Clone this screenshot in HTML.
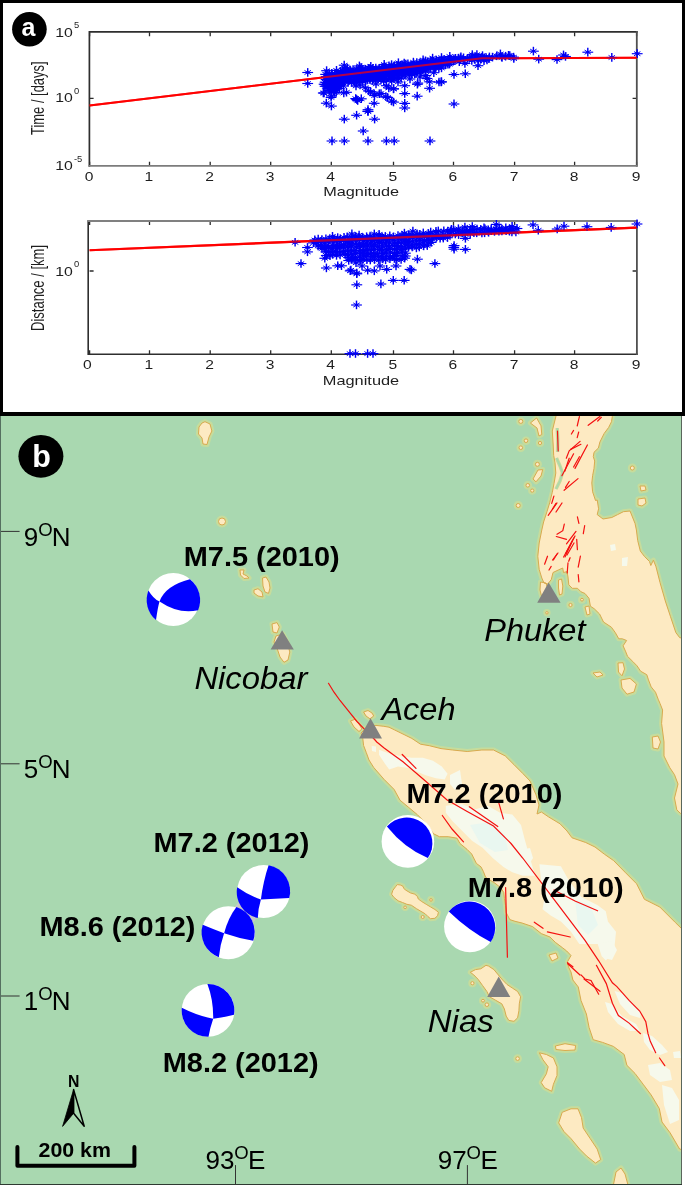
<!DOCTYPE html><html><head><meta charset="utf-8"><style>html,body{margin:0;padding:0;background:#fff;overflow:hidden;width:685px;height:1185px;}svg{display:block;}</style></head><body><svg width="685" height="1185" viewBox="0 0 685 1185"><defs><g id="k"><path d="M-5.4 0H5.4" stroke="#0000f5" stroke-width="1.15" fill="none"/><path d="M0 -4.4V4.2" stroke="#0000f5" stroke-width="1.45" fill="none"/><path d="M-3.2 -2.1L3.2 2.1M-3.2 2.1L3.2 -2.1" stroke="#0000f5" stroke-width="1" fill="none"/><circle r="1.4" fill="#0000f5"/></g><clipPath id="mc"><rect x="1" y="416" width="680" height="768"/></clipPath><clipPath id="p1"><rect x="60" y="20" width="600" height="170"/></clipPath></defs><rect x="0" y="0" width="685" height="1185" fill="#000"/><rect x="3" y="3" width="679" height="409" fill="#fff"/><rect x="682" y="416" width="3" height="769" fill="#fff"/><rect x="0" y="416" width="682" height="769" fill="#2e3a31"/><rect x="0" y="416" width="1" height="768" fill="#557060"/><rect x="681" y="416" width="1" height="768" fill="#5a665c"/><rect x="1" y="416" width="680" height="768" fill="#a9d8b0"/><g fill="none" stroke="#2b2b2b" stroke-width="1.3"><path d="M89.6 165.7v-4M89.6 32.3v4M149.5 165.7v-4M149.5 32.3v4M210.2 165.7v-4M210.2 32.3v4M270.7 165.7v-4M270.7 32.3v4M331.3 165.7v-4M331.3 32.3v4M393.5 165.7v-4M393.5 32.3v4M453.5 165.7v-4M453.5 32.3v4M514.6 165.7v-4M514.6 32.3v4M574.6 165.7v-4M574.6 32.3v4M636.6 165.7v-4M636.6 32.3v4M89.6 98.4h4M636.6 98.4h-4"/><path d="M89.6 354.2v-4M89.6 221.0v4M149.5 354.2v-4M149.5 221.0v4M210.2 354.2v-4M210.2 221.0v4M270.7 354.2v-4M270.7 221.0v4M331.3 354.2v-4M331.3 221.0v4M393.5 354.2v-4M393.5 221.0v4M453.5 354.2v-4M453.5 221.0v4M514.6 354.2v-4M514.6 221.0v4M574.6 354.2v-4M574.6 221.0v4M636.6 354.2v-4M636.6 221.0v4M89.6 271.0h4M636.6 271.0h-4"/></g><g fill="none" stroke-linecap="square"><path d="M89.4 165.8V31.9H636.8" stroke="#2e2e2e" stroke-width="1.7"/><path d="M636.8 31.9V165.8" stroke="#505050" stroke-width="1.8"/><path d="M89.4 165.8H636.8" stroke="#7c7c7c" stroke-width="1.8"/><path d="M88.2 221V354.2H636.9" stroke="#2e2e2e" stroke-width="1.6"/><path d="M636.9 221V354.2" stroke="#505050" stroke-width="1.8"/><path d="M88.2 221H636.9" stroke="#808080" stroke-width="1.8"/></g><polyline points="89.6,105.5 482,58.3 636.6,57.8" fill="none" stroke="#f00" stroke-width="2.1"/><polyline points="89.6,250.2 636.6,227.6" fill="none" stroke="#f00" stroke-width="2.1"/><g><use href="#k" x="325.6" y="74.4"/><use href="#k" x="326.3" y="76.7"/><use href="#k" x="326.1" y="79.6"/><use href="#k" x="325.1" y="82.2"/><use href="#k" x="325.1" y="84.5"/><use href="#k" x="325.1" y="86.3"/><use href="#k" x="329.4" y="73.7"/><use href="#k" x="328.2" y="76.9"/><use href="#k" x="329.7" y="79.2"/><use href="#k" x="328.6" y="82.3"/><use href="#k" x="327.9" y="84.5"/><use href="#k" x="328.3" y="85.7"/><use href="#k" x="328.0" y="88.4"/><use href="#k" x="329.4" y="90.6"/><use href="#k" x="331.8" y="73.5"/><use href="#k" x="331.6" y="75.4"/><use href="#k" x="330.6" y="78.0"/><use href="#k" x="331.9" y="80.8"/><use href="#k" x="331.1" y="83.5"/><use href="#k" x="331.4" y="85.4"/><use href="#k" x="332.1" y="88.4"/><use href="#k" x="331.0" y="90.6"/><use href="#k" x="335.0" y="73.6"/><use href="#k" x="333.9" y="76.4"/><use href="#k" x="333.5" y="77.9"/><use href="#k" x="334.8" y="79.8"/><use href="#k" x="334.3" y="82.1"/><use href="#k" x="334.6" y="85.6"/><use href="#k" x="334.4" y="88.2"/><use href="#k" x="333.9" y="90.3"/><use href="#k" x="334.5" y="92.5"/><use href="#k" x="337.7" y="73.4"/><use href="#k" x="337.0" y="75.3"/><use href="#k" x="336.2" y="77.8"/><use href="#k" x="337.3" y="80.7"/><use href="#k" x="337.7" y="81.9"/><use href="#k" x="336.8" y="84.9"/><use href="#k" x="336.1" y="87.0"/><use href="#k" x="336.4" y="88.9"/><use href="#k" x="336.2" y="92.3"/><use href="#k" x="336.5" y="70.4"/><use href="#k" x="340.5" y="71.3"/><use href="#k" x="339.7" y="74.5"/><use href="#k" x="340.6" y="77.3"/><use href="#k" x="340.5" y="78.8"/><use href="#k" x="339.6" y="81.4"/><use href="#k" x="340.6" y="84.7"/><use href="#k" x="339.1" y="85.9"/><use href="#k" x="339.3" y="88.4"/><use href="#k" x="342.7" y="70.8"/><use href="#k" x="341.6" y="73.5"/><use href="#k" x="342.3" y="76.1"/><use href="#k" x="343.5" y="78.7"/><use href="#k" x="342.6" y="81.0"/><use href="#k" x="342.9" y="82.5"/><use href="#k" x="343.4" y="86.0"/><use href="#k" x="345.9" y="70.3"/><use href="#k" x="345.1" y="72.2"/><use href="#k" x="345.6" y="74.6"/><use href="#k" x="344.5" y="77.2"/><use href="#k" x="344.6" y="79.8"/><use href="#k" x="344.4" y="81.7"/><use href="#k" x="344.5" y="68.2"/><use href="#k" x="347.1" y="70.8"/><use href="#k" x="348.3" y="72.1"/><use href="#k" x="347.6" y="74.8"/><use href="#k" x="347.8" y="76.8"/><use href="#k" x="348.8" y="80.6"/><use href="#k" x="348.0" y="82.2"/><use href="#k" x="347.3" y="68.1"/><use href="#k" x="350.4" y="70.5"/><use href="#k" x="350.2" y="71.7"/><use href="#k" x="351.7" y="74.9"/><use href="#k" x="350.1" y="77.3"/><use href="#k" x="349.9" y="79.7"/><use href="#k" x="351.8" y="82.6"/><use href="#k" x="353.1" y="69.6"/><use href="#k" x="352.9" y="72.6"/><use href="#k" x="353.7" y="75.0"/><use href="#k" x="353.3" y="76.5"/><use href="#k" x="354.2" y="80.2"/><use href="#k" x="354.3" y="82.3"/><use href="#k" x="356.8" y="69.1"/><use href="#k" x="356.4" y="71.7"/><use href="#k" x="355.4" y="73.6"/><use href="#k" x="355.9" y="76.4"/><use href="#k" x="356.7" y="79.9"/><use href="#k" x="356.3" y="82.3"/><use href="#k" x="360.0" y="69.1"/><use href="#k" x="358.6" y="71.3"/><use href="#k" x="358.5" y="73.7"/><use href="#k" x="359.4" y="77.2"/><use href="#k" x="359.8" y="78.9"/><use href="#k" x="359.4" y="81.8"/><use href="#k" x="359.4" y="66.0"/><use href="#k" x="362.4" y="69.5"/><use href="#k" x="361.8" y="71.0"/><use href="#k" x="362.5" y="73.6"/><use href="#k" x="362.5" y="77.0"/><use href="#k" x="361.7" y="78.5"/><use href="#k" x="362.8" y="81.5"/><use href="#k" x="361.1" y="67.3"/><use href="#k" x="365.4" y="69.3"/><use href="#k" x="363.9" y="71.8"/><use href="#k" x="365.6" y="73.9"/><use href="#k" x="364.3" y="76.1"/><use href="#k" x="363.9" y="77.7"/><use href="#k" x="365.6" y="81.1"/><use href="#k" x="368.3" y="68.5"/><use href="#k" x="368.1" y="71.5"/><use href="#k" x="366.8" y="73.0"/><use href="#k" x="367.0" y="75.4"/><use href="#k" x="367.6" y="77.8"/><use href="#k" x="367.2" y="80.0"/><use href="#k" x="369.9" y="68.3"/><use href="#k" x="370.3" y="71.4"/><use href="#k" x="370.0" y="73.8"/><use href="#k" x="370.2" y="75.6"/><use href="#k" x="370.2" y="77.2"/><use href="#k" x="370.0" y="79.8"/><use href="#k" x="370.8" y="66.5"/><use href="#k" x="372.9" y="68.4"/><use href="#k" x="373.0" y="70.2"/><use href="#k" x="373.0" y="73.0"/><use href="#k" x="373.5" y="74.6"/><use href="#k" x="373.0" y="77.3"/><use href="#k" x="372.5" y="80.5"/><use href="#k" x="375.8" y="68.2"/><use href="#k" x="376.5" y="70.1"/><use href="#k" x="375.9" y="72.6"/><use href="#k" x="375.7" y="75.3"/><use href="#k" x="375.6" y="77.5"/><use href="#k" x="375.6" y="80.5"/><use href="#k" x="379.2" y="68.3"/><use href="#k" x="378.0" y="70.0"/><use href="#k" x="379.3" y="72.9"/><use href="#k" x="377.7" y="74.1"/><use href="#k" x="378.3" y="76.5"/><use href="#k" x="377.9" y="78.9"/><use href="#k" x="381.8" y="67.9"/><use href="#k" x="380.5" y="70.0"/><use href="#k" x="381.5" y="71.5"/><use href="#k" x="382.0" y="75.2"/><use href="#k" x="380.6" y="77.6"/><use href="#k" x="381.0" y="79.3"/><use href="#k" x="384.6" y="66.5"/><use href="#k" x="383.8" y="69.5"/><use href="#k" x="383.6" y="71.3"/><use href="#k" x="383.6" y="74.6"/><use href="#k" x="383.0" y="76.7"/><use href="#k" x="383.8" y="78.3"/><use href="#k" x="384.2" y="64.5"/><use href="#k" x="385.8" y="67.6"/><use href="#k" x="387.3" y="69.9"/><use href="#k" x="385.9" y="71.2"/><use href="#k" x="385.8" y="74.4"/><use href="#k" x="386.3" y="75.8"/><use href="#k" x="386.6" y="79.4"/><use href="#k" x="389.0" y="66.0"/><use href="#k" x="390.3" y="69.0"/><use href="#k" x="389.9" y="70.7"/><use href="#k" x="388.6" y="74.0"/><use href="#k" x="389.3" y="75.4"/><use href="#k" x="390.4" y="78.7"/><use href="#k" x="391.4" y="66.8"/><use href="#k" x="391.4" y="69.2"/><use href="#k" x="392.1" y="70.8"/><use href="#k" x="392.3" y="74.1"/><use href="#k" x="391.8" y="75.3"/><use href="#k" x="392.3" y="77.8"/><use href="#k" x="391.6" y="64.7"/><use href="#k" x="394.4" y="65.7"/><use href="#k" x="394.6" y="68.8"/><use href="#k" x="394.6" y="70.8"/><use href="#k" x="394.4" y="73.0"/><use href="#k" x="394.0" y="75.2"/><use href="#k" x="394.0" y="78.4"/><use href="#k" x="397.1" y="65.7"/><use href="#k" x="398.6" y="67.5"/><use href="#k" x="398.4" y="70.4"/><use href="#k" x="397.8" y="73.5"/><use href="#k" x="397.5" y="75.4"/><use href="#k" x="398.1" y="78.5"/><use href="#k" x="398.4" y="62.8"/><use href="#k" x="400.8" y="65.4"/><use href="#k" x="400.2" y="67.2"/><use href="#k" x="399.8" y="69.6"/><use href="#k" x="401.0" y="72.3"/><use href="#k" x="399.8" y="74.4"/><use href="#k" x="401.2" y="78.1"/><use href="#k" x="402.8" y="64.9"/><use href="#k" x="402.9" y="67.6"/><use href="#k" x="402.6" y="70.0"/><use href="#k" x="402.8" y="73.2"/><use href="#k" x="404.2" y="74.9"/><use href="#k" x="404.2" y="63.2"/><use href="#k" x="405.8" y="64.2"/><use href="#k" x="405.8" y="67.4"/><use href="#k" x="406.0" y="69.3"/><use href="#k" x="406.0" y="71.4"/><use href="#k" x="405.6" y="74.0"/><use href="#k" x="407.9" y="64.0"/><use href="#k" x="408.4" y="66.8"/><use href="#k" x="409.0" y="69.6"/><use href="#k" x="409.3" y="72.2"/><use href="#k" x="409.2" y="75.0"/><use href="#k" x="411.2" y="65.3"/><use href="#k" x="410.9" y="67.3"/><use href="#k" x="411.8" y="68.6"/><use href="#k" x="412.2" y="72.4"/><use href="#k" x="411.8" y="74.5"/><use href="#k" x="413.6" y="64.0"/><use href="#k" x="414.3" y="66.9"/><use href="#k" x="414.9" y="69.3"/><use href="#k" x="414.5" y="71.8"/><use href="#k" x="414.7" y="73.9"/><use href="#k" x="413.4" y="62.2"/><use href="#k" x="416.8" y="62.7"/><use href="#k" x="417.8" y="65.8"/><use href="#k" x="417.3" y="68.3"/><use href="#k" x="417.4" y="70.5"/><use href="#k" x="416.1" y="73.4"/><use href="#k" x="419.8" y="62.8"/><use href="#k" x="420.2" y="64.4"/><use href="#k" x="420.3" y="67.1"/><use href="#k" x="419.0" y="69.5"/><use href="#k" x="420.3" y="71.8"/><use href="#k" x="423.6" y="62.1"/><use href="#k" x="422.4" y="64.5"/><use href="#k" x="423.0" y="67.3"/><use href="#k" x="422.8" y="69.5"/><use href="#k" x="421.8" y="71.1"/><use href="#k" x="423.1" y="60.0"/><use href="#k" x="425.5" y="60.9"/><use href="#k" x="424.5" y="63.7"/><use href="#k" x="425.7" y="66.8"/><use href="#k" x="425.7" y="68.6"/><use href="#k" x="425.4" y="71.2"/><use href="#k" x="427.4" y="62.0"/><use href="#k" x="427.5" y="64.5"/><use href="#k" x="429.0" y="65.4"/><use href="#k" x="428.0" y="69.1"/><use href="#k" x="430.8" y="60.6"/><use href="#k" x="430.3" y="64.1"/><use href="#k" x="430.3" y="65.9"/><use href="#k" x="430.2" y="68.3"/><use href="#k" x="432.9" y="61.2"/><use href="#k" x="433.7" y="63.7"/><use href="#k" x="434.0" y="65.0"/><use href="#k" x="434.4" y="67.8"/><use href="#k" x="432.6" y="58.2"/><use href="#k" x="436.3" y="60.1"/><use href="#k" x="435.7" y="62.6"/><use href="#k" x="436.0" y="65.8"/><use href="#k" x="435.4" y="68.0"/><use href="#k" x="438.4" y="61.0"/><use href="#k" x="439.6" y="63.3"/><use href="#k" x="438.7" y="64.9"/><use href="#k" x="438.9" y="68.3"/><use href="#k" x="441.6" y="60.0"/><use href="#k" x="441.5" y="61.8"/><use href="#k" x="441.1" y="65.5"/><use href="#k" x="441.5" y="68.0"/><use href="#k" x="441.5" y="57.6"/><use href="#k" x="444.1" y="59.7"/><use href="#k" x="445.6" y="63.0"/><use href="#k" x="445.3" y="65.0"/><use href="#k" x="448.3" y="59.8"/><use href="#k" x="447.9" y="61.4"/><use href="#k" x="447.9" y="64.4"/><use href="#k" x="450.5" y="59.1"/><use href="#k" x="449.3" y="62.6"/><use href="#k" x="449.5" y="64.2"/><use href="#k" x="449.8" y="56.5"/><use href="#k" x="453.9" y="58.8"/><use href="#k" x="453.3" y="61.3"/><use href="#k" x="455.5" y="58.4"/><use href="#k" x="455.0" y="60.9"/><use href="#k" x="458.5" y="58.2"/><use href="#k" x="459.3" y="61.8"/><use href="#k" x="460.5" y="58.0"/><use href="#k" x="460.9" y="56.8"/><use href="#k" x="463.5" y="57.9"/><use href="#k" x="467.5" y="58.6"/><use href="#k" x="469.3" y="58.1"/><use href="#k" x="472.0" y="56.8"/><use href="#k" x="471.8" y="60.6"/><use href="#k" x="472.3" y="54.7"/><use href="#k" x="475.8" y="57.0"/><use href="#k" x="474.6" y="59.5"/><use href="#k" x="477.7" y="58.2"/><use href="#k" x="478.5" y="60.5"/><use href="#k" x="476.9" y="54.6"/><use href="#k" x="481.4" y="57.5"/><use href="#k" x="480.7" y="59.1"/><use href="#k" x="484.2" y="58.0"/><use href="#k" x="484.0" y="60.7"/><use href="#k" x="482.5" y="55.7"/><use href="#k" x="486.1" y="57.7"/><use href="#k" x="487.0" y="60.1"/><use href="#k" x="489.4" y="57.0"/><use href="#k" x="488.9" y="58.7"/><use href="#k" x="492.5" y="57.2"/><use href="#k" x="496.7" y="55.9"/><use href="#k" x="501.6" y="56.8"/><use href="#k" x="500.4" y="54.0"/><use href="#k" x="505.6" y="56.3"/><use href="#k" x="509.8" y="55.7"/><use href="#k" x="513.6" y="57.2"/><use href="#k" x="314.8" y="240.0"/><use href="#k" x="313.5" y="242.9"/><use href="#k" x="318.2" y="239.2"/><use href="#k" x="316.8" y="242.8"/><use href="#k" x="318.1" y="246.0"/><use href="#k" x="321.9" y="239.7"/><use href="#k" x="321.0" y="241.6"/><use href="#k" x="321.3" y="245.5"/><use href="#k" x="322.0" y="248.5"/><use href="#k" x="325.9" y="239.0"/><use href="#k" x="324.8" y="243.0"/><use href="#k" x="325.0" y="246.1"/><use href="#k" x="324.8" y="248.4"/><use href="#k" x="325.9" y="251.9"/><use href="#k" x="326.3" y="255.5"/><use href="#k" x="324.8" y="258.3"/><use href="#k" x="329.5" y="239.5"/><use href="#k" x="328.5" y="241.9"/><use href="#k" x="328.6" y="246.1"/><use href="#k" x="328.5" y="248.0"/><use href="#k" x="328.3" y="251.8"/><use href="#k" x="330.0" y="255.9"/><use href="#k" x="334.0" y="239.2"/><use href="#k" x="332.6" y="241.4"/><use href="#k" x="333.8" y="245.6"/><use href="#k" x="332.0" y="248.7"/><use href="#k" x="332.7" y="251.6"/><use href="#k" x="332.6" y="254.5"/><use href="#k" x="332.5" y="236.4"/><use href="#k" x="337.7" y="237.7"/><use href="#k" x="337.7" y="241.2"/><use href="#k" x="336.5" y="245.5"/><use href="#k" x="337.4" y="248.1"/><use href="#k" x="335.9" y="251.5"/><use href="#k" x="336.5" y="255.5"/><use href="#k" x="340.3" y="238.8"/><use href="#k" x="339.6" y="241.3"/><use href="#k" x="341.2" y="245.2"/><use href="#k" x="339.6" y="247.3"/><use href="#k" x="339.7" y="252.0"/><use href="#k" x="340.1" y="255.0"/><use href="#k" x="344.0" y="237.4"/><use href="#k" x="345.3" y="241.3"/><use href="#k" x="343.9" y="244.8"/><use href="#k" x="344.0" y="247.3"/><use href="#k" x="343.4" y="251.4"/><use href="#k" x="345.2" y="254.5"/><use href="#k" x="347.2" y="236.8"/><use href="#k" x="348.1" y="241.3"/><use href="#k" x="349.1" y="243.7"/><use href="#k" x="347.7" y="247.1"/><use href="#k" x="348.1" y="251.1"/><use href="#k" x="347.5" y="254.2"/><use href="#k" x="348.6" y="257.6"/><use href="#k" x="348.7" y="260.5"/><use href="#k" x="351.6" y="236.7"/><use href="#k" x="352.5" y="239.6"/><use href="#k" x="351.3" y="244.0"/><use href="#k" x="351.4" y="246.2"/><use href="#k" x="351.0" y="250.2"/><use href="#k" x="351.6" y="254.2"/><use href="#k" x="352.7" y="257.5"/><use href="#k" x="351.5" y="259.4"/><use href="#k" x="351.9" y="234.0"/><use href="#k" x="355.6" y="236.5"/><use href="#k" x="355.6" y="240.4"/><use href="#k" x="356.1" y="243.9"/><use href="#k" x="356.4" y="247.1"/><use href="#k" x="355.0" y="250.6"/><use href="#k" x="355.3" y="253.5"/><use href="#k" x="355.5" y="257.1"/><use href="#k" x="355.1" y="259.6"/><use href="#k" x="358.8" y="237.4"/><use href="#k" x="359.7" y="239.8"/><use href="#k" x="359.3" y="244.2"/><use href="#k" x="359.6" y="246.3"/><use href="#k" x="360.2" y="250.3"/><use href="#k" x="360.5" y="252.7"/><use href="#k" x="359.5" y="257.1"/><use href="#k" x="360.2" y="260.6"/><use href="#k" x="359.1" y="235.1"/><use href="#k" x="362.7" y="237.5"/><use href="#k" x="363.5" y="240.7"/><use href="#k" x="363.1" y="243.9"/><use href="#k" x="363.2" y="246.3"/><use href="#k" x="363.9" y="250.7"/><use href="#k" x="362.5" y="253.4"/><use href="#k" x="363.6" y="256.1"/><use href="#k" x="363.1" y="259.3"/><use href="#k" x="366.6" y="236.8"/><use href="#k" x="367.4" y="239.5"/><use href="#k" x="366.2" y="243.0"/><use href="#k" x="367.5" y="246.1"/><use href="#k" x="366.8" y="249.4"/><use href="#k" x="367.7" y="253.3"/><use href="#k" x="366.3" y="255.9"/><use href="#k" x="366.9" y="259.9"/><use href="#k" x="370.1" y="236.1"/><use href="#k" x="371.3" y="239.8"/><use href="#k" x="370.5" y="242.9"/><use href="#k" x="371.8" y="246.2"/><use href="#k" x="371.1" y="249.6"/><use href="#k" x="370.8" y="253.7"/><use href="#k" x="371.9" y="256.2"/><use href="#k" x="370.3" y="260.1"/><use href="#k" x="373.7" y="237.2"/><use href="#k" x="374.6" y="240.4"/><use href="#k" x="374.5" y="243.8"/><use href="#k" x="374.6" y="245.9"/><use href="#k" x="373.7" y="249.8"/><use href="#k" x="375.0" y="253.7"/><use href="#k" x="373.9" y="256.5"/><use href="#k" x="374.5" y="259.7"/><use href="#k" x="374.3" y="234.0"/><use href="#k" x="379.4" y="235.9"/><use href="#k" x="378.5" y="240.3"/><use href="#k" x="379.4" y="242.6"/><use href="#k" x="377.8" y="247.1"/><use href="#k" x="379.5" y="249.7"/><use href="#k" x="377.6" y="253.7"/><use href="#k" x="378.3" y="256.9"/><use href="#k" x="378.8" y="260.1"/><use href="#k" x="379.1" y="234.5"/><use href="#k" x="382.1" y="237.0"/><use href="#k" x="383.0" y="239.2"/><use href="#k" x="381.7" y="242.9"/><use href="#k" x="382.3" y="246.1"/><use href="#k" x="381.6" y="249.2"/><use href="#k" x="382.8" y="253.5"/><use href="#k" x="381.4" y="256.3"/><use href="#k" x="382.8" y="258.8"/><use href="#k" x="385.3" y="236.5"/><use href="#k" x="386.2" y="239.8"/><use href="#k" x="385.7" y="242.8"/><use href="#k" x="386.3" y="246.1"/><use href="#k" x="386.4" y="249.5"/><use href="#k" x="386.0" y="252.1"/><use href="#k" x="386.3" y="256.1"/><use href="#k" x="385.6" y="259.9"/><use href="#k" x="389.8" y="235.8"/><use href="#k" x="389.8" y="238.9"/><use href="#k" x="389.2" y="242.8"/><use href="#k" x="389.1" y="246.1"/><use href="#k" x="389.9" y="248.7"/><use href="#k" x="390.2" y="252.1"/><use href="#k" x="390.4" y="256.5"/><use href="#k" x="389.9" y="258.7"/><use href="#k" x="393.5" y="236.9"/><use href="#k" x="393.0" y="240.1"/><use href="#k" x="394.7" y="243.2"/><use href="#k" x="394.3" y="245.6"/><use href="#k" x="394.7" y="249.4"/><use href="#k" x="394.6" y="253.4"/><use href="#k" x="393.0" y="256.5"/><use href="#k" x="394.6" y="258.6"/><use href="#k" x="398.0" y="235.6"/><use href="#k" x="398.3" y="239.1"/><use href="#k" x="398.1" y="242.2"/><use href="#k" x="397.5" y="246.7"/><use href="#k" x="396.9" y="249.0"/><use href="#k" x="397.5" y="252.3"/><use href="#k" x="396.6" y="255.4"/><use href="#k" x="396.8" y="259.9"/><use href="#k" x="402.1" y="235.5"/><use href="#k" x="401.9" y="238.8"/><use href="#k" x="401.3" y="242.9"/><use href="#k" x="401.0" y="246.6"/><use href="#k" x="401.4" y="249.4"/><use href="#k" x="402.1" y="251.9"/><use href="#k" x="402.3" y="256.1"/><use href="#k" x="401.1" y="259.6"/><use href="#k" x="406.1" y="236.0"/><use href="#k" x="404.8" y="239.6"/><use href="#k" x="405.0" y="242.0"/><use href="#k" x="405.6" y="245.1"/><use href="#k" x="405.7" y="248.7"/><use href="#k" x="405.4" y="253.2"/><use href="#k" x="405.3" y="256.0"/><use href="#k" x="404.7" y="258.2"/><use href="#k" x="404.4" y="233.2"/><use href="#k" x="408.7" y="234.8"/><use href="#k" x="409.7" y="237.5"/><use href="#k" x="408.3" y="241.6"/><use href="#k" x="407.9" y="243.9"/><use href="#k" x="408.6" y="247.3"/><use href="#k" x="412.1" y="234.6"/><use href="#k" x="412.8" y="237.3"/><use href="#k" x="412.9" y="241.0"/><use href="#k" x="411.9" y="245.0"/><use href="#k" x="412.2" y="247.1"/><use href="#k" x="412.9" y="231.2"/><use href="#k" x="417.0" y="234.0"/><use href="#k" x="416.0" y="236.6"/><use href="#k" x="416.8" y="240.8"/><use href="#k" x="416.2" y="244.3"/><use href="#k" x="416.4" y="248.0"/><use href="#k" x="419.8" y="234.5"/><use href="#k" x="419.3" y="237.2"/><use href="#k" x="420.1" y="240.0"/><use href="#k" x="419.4" y="244.2"/><use href="#k" x="419.3" y="247.1"/><use href="#k" x="423.3" y="233.0"/><use href="#k" x="424.3" y="236.8"/><use href="#k" x="424.3" y="240.6"/><use href="#k" x="423.4" y="243.1"/><use href="#k" x="423.7" y="246.0"/><use href="#k" x="428.4" y="233.5"/><use href="#k" x="426.9" y="237.0"/><use href="#k" x="428.3" y="239.7"/><use href="#k" x="428.3" y="243.0"/><use href="#k" x="427.3" y="245.7"/><use href="#k" x="430.7" y="232.1"/><use href="#k" x="432.1" y="236.0"/><use href="#k" x="432.3" y="239.3"/><use href="#k" x="431.2" y="242.4"/><use href="#k" x="436.0" y="231.5"/><use href="#k" x="435.0" y="235.0"/><use href="#k" x="436.4" y="237.6"/><use href="#k" x="438.3" y="231.0"/><use href="#k" x="438.7" y="235.1"/><use href="#k" x="440.1" y="238.4"/><use href="#k" x="443.8" y="231.0"/><use href="#k" x="442.5" y="235.3"/><use href="#k" x="443.3" y="238.2"/><use href="#k" x="447.8" y="231.2"/><use href="#k" x="447.5" y="234.9"/><use href="#k" x="447.5" y="237.7"/><use href="#k" x="450.8" y="230.9"/><use href="#k" x="450.0" y="234.7"/><use href="#k" x="451.4" y="229.4"/><use href="#k" x="453.5" y="230.5"/><use href="#k" x="455.3" y="234.1"/><use href="#k" x="453.5" y="229.5"/><use href="#k" x="458.6" y="231.2"/><use href="#k" x="458.6" y="234.7"/><use href="#k" x="458.4" y="228.8"/><use href="#k" x="462.6" y="230.9"/><use href="#k" x="462.8" y="233.0"/><use href="#k" x="466.6" y="231.0"/><use href="#k" x="465.0" y="233.1"/><use href="#k" x="464.9" y="227.1"/><use href="#k" x="470.2" y="230.4"/><use href="#k" x="470.2" y="233.7"/><use href="#k" x="472.6" y="229.4"/><use href="#k" x="473.9" y="232.9"/><use href="#k" x="477.0" y="229.2"/><use href="#k" x="476.7" y="232.9"/><use href="#k" x="480.7" y="229.5"/><use href="#k" x="481.9" y="233.1"/><use href="#k" x="485.0" y="228.9"/><use href="#k" x="484.6" y="232.9"/><use href="#k" x="488.3" y="229.9"/><use href="#k" x="488.6" y="232.4"/><use href="#k" x="491.2" y="229.0"/><use href="#k" x="491.3" y="230.7"/><use href="#k" x="496.0" y="229.3"/><use href="#k" x="494.5" y="231.5"/><use href="#k" x="499.5" y="228.0"/><use href="#k" x="498.9" y="231.3"/><use href="#k" x="501.9" y="229.2"/><use href="#k" x="501.9" y="231.0"/><use href="#k" x="505.8" y="227.9"/><use href="#k" x="506.1" y="230.8"/><use href="#k" x="509.6" y="229.0"/><use href="#k" x="509.5" y="231.3"/><use href="#k" x="512.5" y="229.1"/><use href="#k" x="511.9" y="232.1"/><use href="#k" x="512.1" y="226.5"/><use href="#k" x="517.0" y="228.5"/><use href="#k" x="515.9" y="232.1"/><use href="#k" x="307.7" y="72.5"/><use href="#k" x="307.7" y="83.5"/><use href="#k" x="326.6" y="70.7"/><use href="#k" x="344.2" y="65.2"/><use href="#k" x="324.1" y="84.2"/><use href="#k" x="324.1" y="93.0"/><use href="#k" x="331.4" y="95.9"/><use href="#k" x="326.3" y="103.2"/><use href="#k" x="331.4" y="106.1"/><use href="#k" x="343.8" y="93.0"/><use href="#k" x="338.0" y="86.4"/><use href="#k" x="332.0" y="141.0"/><use href="#k" x="344.3" y="141.0"/><use href="#k" x="368.0" y="141.0"/><use href="#k" x="386.4" y="141.0"/><use href="#k" x="394.2" y="141.0"/><use href="#k" x="430.0" y="141.0"/><use href="#k" x="363.2" y="131.0"/><use href="#k" x="344.3" y="119.2"/><use href="#k" x="356.6" y="115.3"/><use href="#k" x="368.0" y="111.5"/><use href="#k" x="374.6" y="119.2"/><use href="#k" x="356.7" y="99.6"/><use href="#k" x="355.7" y="98.6"/><use href="#k" x="357.7" y="100.6"/><use href="#k" x="374.2" y="103.3"/><use href="#k" x="374.2" y="93.8"/><use href="#k" x="368.4" y="90.9"/><use href="#k" x="379.3" y="93.8"/><use href="#k" x="385.9" y="96.7"/><use href="#k" x="391.7" y="101.1"/><use href="#k" x="346.5" y="92.3"/><use href="#k" x="388.8" y="88.0"/><use href="#k" x="391.7" y="80.7"/><use href="#k" x="383.7" y="81.4"/><use href="#k" x="367.9" y="111.3"/><use href="#k" x="374.5" y="95.6"/><use href="#k" x="370.5" y="91.6"/><use href="#k" x="365.3" y="87.7"/><use href="#k" x="381.0" y="93.6"/><use href="#k" x="387.6" y="97.5"/><use href="#k" x="393.5" y="102.1"/><use href="#k" x="393.5" y="89.0"/><use href="#k" x="386.3" y="85.7"/><use href="#k" x="404.7" y="85.7"/><use href="#k" x="404.7" y="93.6"/><use href="#k" x="404.7" y="103.4"/><use href="#k" x="404.7" y="108.0"/><use href="#k" x="417.2" y="96.2"/><use href="#k" x="417.8" y="83.1"/><use href="#k" x="429.6" y="88.3"/><use href="#k" x="429.6" y="81.8"/><use href="#k" x="427.0" y="78.5"/><use href="#k" x="441.5" y="81.8"/><use href="#k" x="361.3" y="98.8"/><use href="#k" x="393.6" y="88.7"/><use href="#k" x="417.4" y="84.3"/><use href="#k" x="439.0" y="82.1"/><use href="#k" x="425.8" y="75.6"/><use href="#k" x="433.8" y="72.7"/><use href="#k" x="454.0" y="74.5"/><use href="#k" x="465.3" y="73.8"/><use href="#k" x="464.9" y="63.5"/><use href="#k" x="478.0" y="65.7"/><use href="#k" x="454.0" y="104.0"/><use href="#k" x="441.2" y="82.0"/><use href="#k" x="323.3" y="93.0"/><use href="#k" x="331.1" y="97.4"/><use href="#k" x="368.0" y="109.7"/><use href="#k" x="356.0" y="86.0"/><use href="#k" x="360.0" y="85.0"/><use href="#k" x="376.0" y="84.0"/><use href="#k" x="398.0" y="82.0"/><use href="#k" x="410.0" y="79.0"/><use href="#k" x="420.0" y="77.0"/><use href="#k" x="502.0" y="57.5"/><use href="#k" x="508.5" y="55.4"/><use href="#k" x="513.8" y="58.6"/><use href="#k" x="533.4" y="51.2"/><use href="#k" x="538.7" y="59.2"/><use href="#k" x="557.0" y="59.6"/><use href="#k" x="563.5" y="55.0"/><use href="#k" x="565.5" y="56.5"/><use href="#k" x="587.8" y="52.2"/><use href="#k" x="611.8" y="57.5"/><use href="#k" x="637.2" y="53.7"/><use href="#k" x="295.1" y="242.4"/><use href="#k" x="307.5" y="247.5"/><use href="#k" x="307.5" y="251.9"/><use href="#k" x="301.0" y="263.6"/><use href="#k" x="326.4" y="268.0"/><use href="#k" x="337.7" y="265.8"/><use href="#k" x="356.7" y="273.1"/><use href="#k" x="356.0" y="262.9"/><use href="#k" x="350.9" y="270.2"/><use href="#k" x="356.8" y="284.8"/><use href="#k" x="380.9" y="284.0"/><use href="#k" x="393.3" y="280.4"/><use href="#k" x="404.2" y="280.4"/><use href="#k" x="417.4" y="259.2"/><use href="#k" x="434.9" y="263.6"/><use href="#k" x="350.2" y="270.9"/><use href="#k" x="356.8" y="273.8"/><use href="#k" x="367.7" y="270.2"/><use href="#k" x="374.3" y="270.9"/><use href="#k" x="386.7" y="269.4"/><use href="#k" x="410.0" y="269.4"/><use href="#k" x="341.5" y="265.8"/><use href="#k" x="320.7" y="246.0"/><use href="#k" x="356.5" y="305.0"/><use href="#k" x="411.4" y="270.0"/><use href="#k" x="362.0" y="266.0"/><use href="#k" x="396.0" y="266.0"/><use href="#k" x="380.0" y="266.0"/><use href="#k" x="453.7" y="247.4"/><use href="#k" x="465.4" y="249.4"/><use href="#k" x="454.1" y="245.6"/><use href="#k" x="454.1" y="249.2"/><use href="#k" x="465.4" y="238.4"/><use href="#k" x="350.0" y="353.6"/><use href="#k" x="355.5" y="353.6"/><use href="#k" x="367.6" y="353.6"/><use href="#k" x="373.0" y="353.6"/><use href="#k" x="472.3" y="226.6"/><use href="#k" x="484.0" y="228.0"/><use href="#k" x="496.4" y="224.4"/><use href="#k" x="533.0" y="224.9"/><use href="#k" x="538.3" y="230.3"/><use href="#k" x="557.2" y="229.0"/><use href="#k" x="564.0" y="226.2"/><use href="#k" x="587.0" y="226.7"/><use href="#k" x="611.2" y="227.5"/><use href="#k" x="637.0" y="224.0"/></g><polyline points="89.6,105.5 482,58.3 636.6,57.8" fill="none" stroke="#f00" stroke-width="2.1" opacity="0.7"/><polyline points="89.6,250.2 636.6,227.6" fill="none" stroke="#f00" stroke-width="2.1" opacity="0.7"/><text x="0" y="180.6" font-family="Liberation Sans, Arial, sans-serif" font-size="12.2" fill="#1e1e1e" text-anchor="middle" transform="translate(89.0 0) scale(1.28 1)">0</text><text x="0" y="180.6" font-family="Liberation Sans, Arial, sans-serif" font-size="12.2" fill="#1e1e1e" text-anchor="middle" transform="translate(148.9 0) scale(1.28 1)">1</text><text x="0" y="180.6" font-family="Liberation Sans, Arial, sans-serif" font-size="12.2" fill="#1e1e1e" text-anchor="middle" transform="translate(209.6 0) scale(1.28 1)">2</text><text x="0" y="180.6" font-family="Liberation Sans, Arial, sans-serif" font-size="12.2" fill="#1e1e1e" text-anchor="middle" transform="translate(270.1 0) scale(1.28 1)">3</text><text x="0" y="180.6" font-family="Liberation Sans, Arial, sans-serif" font-size="12.2" fill="#1e1e1e" text-anchor="middle" transform="translate(330.7 0) scale(1.28 1)">4</text><text x="0" y="180.6" font-family="Liberation Sans, Arial, sans-serif" font-size="12.2" fill="#1e1e1e" text-anchor="middle" transform="translate(392.9 0) scale(1.28 1)">5</text><text x="0" y="180.6" font-family="Liberation Sans, Arial, sans-serif" font-size="12.2" fill="#1e1e1e" text-anchor="middle" transform="translate(452.9 0) scale(1.28 1)">6</text><text x="0" y="180.6" font-family="Liberation Sans, Arial, sans-serif" font-size="12.2" fill="#1e1e1e" text-anchor="middle" transform="translate(514.0 0) scale(1.28 1)">7</text><text x="0" y="180.6" font-family="Liberation Sans, Arial, sans-serif" font-size="12.2" fill="#1e1e1e" text-anchor="middle" transform="translate(574.0 0) scale(1.28 1)">8</text><text x="0" y="180.6" font-family="Liberation Sans, Arial, sans-serif" font-size="12.2" fill="#1e1e1e" text-anchor="middle" transform="translate(636.0 0) scale(1.28 1)">9</text><text x="0" y="369.2" font-family="Liberation Sans, Arial, sans-serif" font-size="12.2" fill="#1e1e1e" text-anchor="middle" transform="translate(87.4 0) scale(1.28 1)">0</text><text x="0" y="369.2" font-family="Liberation Sans, Arial, sans-serif" font-size="12.2" fill="#1e1e1e" text-anchor="middle" transform="translate(148.9 0) scale(1.28 1)">1</text><text x="0" y="369.2" font-family="Liberation Sans, Arial, sans-serif" font-size="12.2" fill="#1e1e1e" text-anchor="middle" transform="translate(209.6 0) scale(1.28 1)">2</text><text x="0" y="369.2" font-family="Liberation Sans, Arial, sans-serif" font-size="12.2" fill="#1e1e1e" text-anchor="middle" transform="translate(270.1 0) scale(1.28 1)">3</text><text x="0" y="369.2" font-family="Liberation Sans, Arial, sans-serif" font-size="12.2" fill="#1e1e1e" text-anchor="middle" transform="translate(330.7 0) scale(1.28 1)">4</text><text x="0" y="369.2" font-family="Liberation Sans, Arial, sans-serif" font-size="12.2" fill="#1e1e1e" text-anchor="middle" transform="translate(392.9 0) scale(1.28 1)">5</text><text x="0" y="369.2" font-family="Liberation Sans, Arial, sans-serif" font-size="12.2" fill="#1e1e1e" text-anchor="middle" transform="translate(452.9 0) scale(1.28 1)">6</text><text x="0" y="369.2" font-family="Liberation Sans, Arial, sans-serif" font-size="12.2" fill="#1e1e1e" text-anchor="middle" transform="translate(514.0 0) scale(1.28 1)">7</text><text x="0" y="369.2" font-family="Liberation Sans, Arial, sans-serif" font-size="12.2" fill="#1e1e1e" text-anchor="middle" transform="translate(574.0 0) scale(1.28 1)">8</text><text x="0" y="369.2" font-family="Liberation Sans, Arial, sans-serif" font-size="12.2" fill="#1e1e1e" text-anchor="middle" transform="translate(636.0 0) scale(1.28 1)">9</text><text x="361.2" y="196.1" font-family="Liberation Sans, Arial, sans-serif" font-size="13.3" fill="#1e1e1e" text-anchor="middle" textLength="76" lengthAdjust="spacingAndGlyphs">Magnitude</text><text x="361" y="384.9" font-family="Liberation Sans, Arial, sans-serif" font-size="13.3" fill="#1e1e1e" text-anchor="middle" textLength="76.5" lengthAdjust="spacingAndGlyphs">Magnitude</text><text x="55.2" y="36.5" font-family="Liberation Sans, Arial, sans-serif" font-size="13.6" fill="#1e1e1e" textLength="17.6" lengthAdjust="spacingAndGlyphs">10</text><text x="74.0" y="28.3" font-family="Liberation Sans, Arial, sans-serif" font-size="9.4" fill="#1e1e1e">5</text><text x="55.2" y="102.4" font-family="Liberation Sans, Arial, sans-serif" font-size="13.6" fill="#1e1e1e" textLength="17.6" lengthAdjust="spacingAndGlyphs">10</text><text x="74.0" y="94.2" font-family="Liberation Sans, Arial, sans-serif" font-size="9.4" fill="#1e1e1e">0</text><text x="55.2" y="170.0" font-family="Liberation Sans, Arial, sans-serif" font-size="13.6" fill="#1e1e1e" textLength="17.6" lengthAdjust="spacingAndGlyphs">10</text><text x="74.0" y="161.8" font-family="Liberation Sans, Arial, sans-serif" font-size="9.4" fill="#1e1e1e">-5</text><text x="55.3" y="275.5" font-family="Liberation Sans, Arial, sans-serif" font-size="13.6" fill="#1e1e1e" textLength="17.6" lengthAdjust="spacingAndGlyphs">10</text><text x="74.1" y="267.3" font-family="Liberation Sans, Arial, sans-serif" font-size="9.4" fill="#1e1e1e">0</text><text transform="translate(43.6 98.2) rotate(-90)" font-family="Liberation Sans, Arial, sans-serif" font-size="18.5" fill="#1e1e1e" text-anchor="middle" textLength="73.5" lengthAdjust="spacingAndGlyphs">Time / [days]</text><text transform="translate(44 288) rotate(-90)" font-family="Liberation Sans, Arial, sans-serif" font-size="18.5" fill="#1e1e1e" text-anchor="middle" textLength="86" lengthAdjust="spacingAndGlyphs">Distance / [km]</text><circle cx="29.4" cy="29.2" r="17.3" fill="#000"/><text x="28.5" y="36.3" font-family="Liberation Sans, Arial, sans-serif" font-size="25" font-weight="bold" fill="#fff" text-anchor="middle">a</text><g clip-path="url(#mc)"><path d="M556.0 410.0 L556.0 416.0 L554.0 424.0 L552.3 431.0 L553.2 445.0 L553.7 455.5 L555.0 462.6 L555.8 473.0 L554.0 483.6 L552.3 492.3 L549.7 502.8 L547.0 511.6 L543.6 522.0 L541.8 530.0 L539.2 543.0 L537.8 556.3 L539.2 569.4 L541.8 578.0 L544.0 583.0 L547.8 584.0 L551.3 579.5 L553.0 572.5 L558.3 570.0 L562.7 568.0 L563.5 572.5 L567.0 571.6 L568.0 577.0 L568.8 584.8 L572.3 588.3 L577.5 588.3 L581.0 591.8 L585.0 593.5 L589.0 598.3 L590.4 606.2 L594.3 608.8 L599.6 614.0 L603.5 622.0 L611.4 627.2 L615.3 632.6 L618.8 638.8 L622.3 638.8 L626.6 640.5 L623.1 645.8 L625.8 651.9 L627.5 656.3 L632.8 661.5 L637.1 665.9 L640.6 671.2 L646.8 674.7 L648.5 679.9 L651.2 686.9 L655.5 692.2 L658.2 699.2 L660.0 703.4 L662.6 710.0 L661.6 723.4 L664.0 742.0 L664.0 756.0 L669.8 767.7 L674.5 774.7 L678.0 784.0 L674.5 798.0 L676.8 809.8 L680.3 813.3 L690.0 813.0 L690.0 639.0 L679.7 637.7 L675.8 632.5 L670.5 616.7 L665.3 601.0 L660.0 582.5 L656.0 566.8 L653.4 560.2 L650.8 565.5 L649.5 561.5 L644.3 556.3 L640.3 551.0 L637.7 540.5 L636.4 530.0 L635.0 523.4 L630.0 511.0 L623.4 511.7 L617.6 514.6 L611.8 517.5 L603.0 519.0 L597.2 514.6 L598.6 508.8 L597.2 500.0 L595.5 500.5 L592.6 491.8 L591.8 483.0 L592.6 475.7 L594.0 468.4 L594.7 461.0 L593.3 456.7 L594.0 452.3 L598.4 448.0 L599.9 442.0 L604.2 433.4 L608.6 427.5 L611.5 421.7 L612.3 416.6 L612.0 410.0Z M361.0 733.0 L366.0 728.0 L375.9 725.4 L383.8 726.3 L389.0 727.2 L394.3 729.8 L400.0 732.6 L411.8 738.4 L420.5 744.2 L429.3 745.7 L441.0 748.6 L452.6 750.0 L467.2 751.5 L481.8 750.0 L493.5 750.0 L505.2 755.9 L514.0 764.7 L522.7 773.4 L530.0 781.0 L536.0 794.8 L539.0 805.0 L537.0 814.0 L541.4 812.0 L548.4 816.8 L560.0 823.8 L567.0 831.0 L572.0 837.8 L585.7 842.5 L595.0 847.0 L604.4 854.2 L613.6 860.6 L625.0 872.2 L636.6 883.8 L644.4 899.3 L659.8 907.0 L675.3 922.5 L682.0 929.0 L690.0 929.0 L690.0 1152.0 L679.6 1149.0 L670.1 1132.8 L662.0 1122.0 L659.3 1108.5 L651.2 1095.0 L643.1 1084.2 L635.0 1073.4 L626.9 1065.3 L624.2 1054.5 L613.4 1046.4 L602.6 1042.4 L593.2 1039.7 L589.1 1027.5 L586.4 1014.0 L581.0 1000.5 L578.3 987.0 L572.9 980.0 L571.0 972.0 L568.5 966.9 L567.6 961.6 L571.0 955.5 L566.7 951.0 L562.3 947.6 L555.3 942.3 L550.0 937.0 L541.3 933.6 L532.6 926.6 L522.0 923.0 L515.0 921.3 L509.8 919.6 L506.1 912.4 L505.5 905.4 L504.4 898.4 L503.8 892.6 L500.9 887.9 L495.0 883.2 L485.7 877.4 L483.4 871.5 L481.0 866.9 L476.4 863.4 L471.7 854.0 L467.0 849.3 L460.0 843.5 L457.0 838.2 L448.2 836.7 L439.4 836.7 L433.6 833.8 L426.3 823.6 L417.5 814.8 L408.8 807.5 L400.0 800.2 L394.2 789.5 L384.0 779.3 L373.8 767.6 L369.0 760.0 L366.3 752.6 L363.6 745.5 L362.8 738.5Z M391.6 894.2 L392.9 890.3 L395.5 886.8 L397.3 884.6 L400.3 885.0 L403.0 886.3 L403.8 888.5 L406.0 890.3 L410.4 892.9 L414.8 894.2 L417.4 896.4 L418.3 899.0 L421.8 901.6 L426.2 904.3 L430.5 906.9 L434.9 909.5 L438.4 912.2 L437.6 915.7 L434.9 918.3 L430.5 918.7 L427.9 916.5 L425.3 913.9 L420.9 911.3 L416.5 908.7 L411.3 905.2 L406.9 904.3 L402.5 902.5 L398.1 900.8 L393.8 897.3Z M470.3 972.3 L475.5 969.6 L480.8 968.8 L486.0 965.3 L488.6 966.1 L493.9 969.6 L498.3 974.9 L502.7 980.1 L507.0 984.5 L512.3 988.0 L517.6 991.5 L520.6 996.8 L519.3 1003.8 L518.9 1010.8 L517.6 1017.8 L514.0 1021.3 L508.8 1020.4 L506.2 1016.1 L504.4 1009.0 L501.8 1003.8 L495.7 1000.3 L489.5 996.8 L486.9 991.5 L482.5 985.4 L478.1 979.3 L473.8 974.9Z M562.2 1112.3 L571.0 1108.8 L578.0 1108.8 L581.5 1117.6 L583.2 1128.1 L590.2 1138.6 L597.2 1149.1 L600.7 1159.6 L595.5 1163.1 L586.7 1156.1 L579.7 1149.1 L571.0 1138.6 L564.0 1131.6 L558.7 1122.9Z M539.4 1052.8 L546.4 1054.5 L553.4 1058.0 L557.0 1066.8 L557.0 1075.5 L553.4 1084.3 L551.7 1091.3 L544.7 1087.8 L541.2 1082.6 L546.4 1073.8 L548.2 1066.8 L543.0 1059.8Z M555.4 1046.0 L565.0 1043.7 L575.6 1045.5 L575.0 1050.0 L565.0 1050.5 L556.0 1049.5Z M613.4 1185.0 L616.0 1172.0 L621.0 1168.0 L625.0 1174.0 L628.0 1185.0Z M205.0 421.7 L210.0 424.0 L211.9 431.0 L209.0 437.0 L207.0 444.5 L203.0 444.0 L202.0 438.0 L198.5 434.0 L199.0 427.0 L202.0 423.0Z M262.5 578.0 L266.0 577.0 L269.0 582.0 L270.0 588.0 L268.5 593.4 L265.0 592.0 L263.0 586.0Z M254.0 590.0 L258.0 588.7 L262.0 592.0 L263.0 596.9 L258.0 596.0 L254.0 593.0Z M240.0 570.0 L244.0 570.0 L243.0 574.0 L247.0 576.0 L249.0 578.0 L244.0 578.5 L240.5 575.0Z M272.0 624.0 L277.0 622.6 L279.3 627.0 L277.0 633.0 L273.0 632.0Z M276.0 636.0 L283.0 634.0 L287.0 642.0 L289.8 652.0 L288.0 660.0 L284.0 662.3 L280.0 657.0 L277.0 648.0 L274.0 642.0Z M363.6 712.0 L368.0 710.5 L372.0 713.0 L373.7 716.0 L370.0 718.8 L366.0 716.0Z M350.5 721.0 L355.0 719.3 L359.0 724.0 L361.9 729.0 L359.0 731.5 L354.0 727.0Z M530.4 423.0 L536.6 418.0 L541.0 425.8 L541.8 434.5 L539.0 436.0 L537.0 428.0 L533.0 425.0Z M533.0 479.0 L538.0 470.0 L542.7 469.6 L541.0 476.0 L536.0 481.8Z M640.0 486.0 L645.0 486.0 L646.0 490.0 L641.0 491.0Z M638.0 499.0 L645.0 498.0 L646.0 503.0 L642.0 506.0 L638.0 505.0Z M618.0 663.0 L623.0 662.7 L624.5 669.0 L622.0 675.8 L618.5 672.0Z M621.0 680.0 L630.0 678.4 L636.4 684.0 L634.0 692.0 L627.0 694.2 L622.0 688.0Z M593.0 673.0 L600.0 672.0 L603.0 675.0 L597.0 677.0Z M652.3 737.0 L658.0 736.0 L660.5 742.0 L658.0 749.0 L653.0 748.0Z M585.0 607.0 L589.0 606.0 L590.0 614.0 L587.0 615.0Z M558.5 580.0 L561.5 579.0 L562.8 586.0 L562.0 594.0 L559.5 595.0 L558.5 588.0Z M540.5 582.0 L546.0 583.0 L548.0 590.0 L546.0 597.0 L542.0 598.0 L540.0 590.0Z M549.0 955.0 L556.0 953.0 L558.0 958.0 L552.0 961.0Z M222.0 521.5m-3.5 0a3.5 3.5 0 1 0 7.0 0a3.5 3.5 0 1 0 -7.0 0Z M520.8 421.4m-2.0 0a2.0 2.0 0 1 0 4.0 0a2.0 2.0 0 1 0 -4.0 0Z M526.0 440.7m-1.8 0a1.8 1.8 0 1 0 3.6 0a1.8 1.8 0 1 0 -3.6 0Z M520.8 447.7m-1.8 0a1.8 1.8 0 1 0 3.6 0a1.8 1.8 0 1 0 -3.6 0Z M537.4 464.3m-2.0 0a2.0 2.0 0 1 0 4.0 0a2.0 2.0 0 1 0 -4.0 0Z M527.8 485.3m-1.8 0a1.8 1.8 0 1 0 3.6 0a1.8 1.8 0 1 0 -3.6 0Z M532.2 490.6m-1.6 0a1.6 1.6 0 1 0 3.2 0a1.6 1.6 0 1 0 -3.2 0Z M518.2 505.5m-2.0 0a2.0 2.0 0 1 0 4.0 0a2.0 2.0 0 1 0 -4.0 0Z M632.3 468.0m-2.0 0a2.0 2.0 0 1 0 4.0 0a2.0 2.0 0 1 0 -4.0 0Z M540.0 443.0m-1.6 0a1.6 1.6 0 1 0 3.2 0a1.6 1.6 0 1 0 -3.2 0Z M472.4 983.2m-1.6 0a1.6 1.6 0 1 0 3.2 0a1.6 1.6 0 1 0 -3.2 0Z M483.0 1000.7m-1.4 0a1.4 1.4 0 1 0 2.8 0a1.4 1.4 0 1 0 -2.8 0Z M486.9 1004.7m-1.8 0a1.8 1.8 0 1 0 3.6 0a1.8 1.8 0 1 0 -3.6 0Z M517.6 1058.6m-1.8 0a1.8 1.8 0 1 0 3.6 0a1.8 1.8 0 1 0 -3.6 0Z M405.1 907.3m-1.3 0a1.3 1.3 0 1 0 2.6 0a1.3 1.3 0 1 0 -2.6 0Z M422.7 917.0m-1.5 0a1.5 1.5 0 1 0 3.0 0a1.5 1.5 0 1 0 -3.0 0Z M431.0 899.9m-1.3 0a1.3 1.3 0 1 0 2.6 0a1.3 1.3 0 1 0 -2.6 0Z M570.5 605.0m-1.6 0a1.6 1.6 0 1 0 3.2 0a1.6 1.6 0 1 0 -3.2 0Z M582.0 599.7m-1.4 0a1.4 1.4 0 1 0 2.8 0a1.4 1.4 0 1 0 -2.8 0Z M546.9 612.8m-1.2 0a1.2 1.2 0 1 0 2.4 0a1.2 1.2 0 1 0 -2.4 0Z" fill="none" stroke="#c6dc9c" stroke-width="5" stroke-linejoin="round"/><path d="M556.0 410.0 L556.0 416.0 L554.0 424.0 L552.3 431.0 L553.2 445.0 L553.7 455.5 L555.0 462.6 L555.8 473.0 L554.0 483.6 L552.3 492.3 L549.7 502.8 L547.0 511.6 L543.6 522.0 L541.8 530.0 L539.2 543.0 L537.8 556.3 L539.2 569.4 L541.8 578.0 L544.0 583.0 L547.8 584.0 L551.3 579.5 L553.0 572.5 L558.3 570.0 L562.7 568.0 L563.5 572.5 L567.0 571.6 L568.0 577.0 L568.8 584.8 L572.3 588.3 L577.5 588.3 L581.0 591.8 L585.0 593.5 L589.0 598.3 L590.4 606.2 L594.3 608.8 L599.6 614.0 L603.5 622.0 L611.4 627.2 L615.3 632.6 L618.8 638.8 L622.3 638.8 L626.6 640.5 L623.1 645.8 L625.8 651.9 L627.5 656.3 L632.8 661.5 L637.1 665.9 L640.6 671.2 L646.8 674.7 L648.5 679.9 L651.2 686.9 L655.5 692.2 L658.2 699.2 L660.0 703.4 L662.6 710.0 L661.6 723.4 L664.0 742.0 L664.0 756.0 L669.8 767.7 L674.5 774.7 L678.0 784.0 L674.5 798.0 L676.8 809.8 L680.3 813.3 L690.0 813.0 L690.0 639.0 L679.7 637.7 L675.8 632.5 L670.5 616.7 L665.3 601.0 L660.0 582.5 L656.0 566.8 L653.4 560.2 L650.8 565.5 L649.5 561.5 L644.3 556.3 L640.3 551.0 L637.7 540.5 L636.4 530.0 L635.0 523.4 L630.0 511.0 L623.4 511.7 L617.6 514.6 L611.8 517.5 L603.0 519.0 L597.2 514.6 L598.6 508.8 L597.2 500.0 L595.5 500.5 L592.6 491.8 L591.8 483.0 L592.6 475.7 L594.0 468.4 L594.7 461.0 L593.3 456.7 L594.0 452.3 L598.4 448.0 L599.9 442.0 L604.2 433.4 L608.6 427.5 L611.5 421.7 L612.3 416.6 L612.0 410.0Z M361.0 733.0 L366.0 728.0 L375.9 725.4 L383.8 726.3 L389.0 727.2 L394.3 729.8 L400.0 732.6 L411.8 738.4 L420.5 744.2 L429.3 745.7 L441.0 748.6 L452.6 750.0 L467.2 751.5 L481.8 750.0 L493.5 750.0 L505.2 755.9 L514.0 764.7 L522.7 773.4 L530.0 781.0 L536.0 794.8 L539.0 805.0 L537.0 814.0 L541.4 812.0 L548.4 816.8 L560.0 823.8 L567.0 831.0 L572.0 837.8 L585.7 842.5 L595.0 847.0 L604.4 854.2 L613.6 860.6 L625.0 872.2 L636.6 883.8 L644.4 899.3 L659.8 907.0 L675.3 922.5 L682.0 929.0 L690.0 929.0 L690.0 1152.0 L679.6 1149.0 L670.1 1132.8 L662.0 1122.0 L659.3 1108.5 L651.2 1095.0 L643.1 1084.2 L635.0 1073.4 L626.9 1065.3 L624.2 1054.5 L613.4 1046.4 L602.6 1042.4 L593.2 1039.7 L589.1 1027.5 L586.4 1014.0 L581.0 1000.5 L578.3 987.0 L572.9 980.0 L571.0 972.0 L568.5 966.9 L567.6 961.6 L571.0 955.5 L566.7 951.0 L562.3 947.6 L555.3 942.3 L550.0 937.0 L541.3 933.6 L532.6 926.6 L522.0 923.0 L515.0 921.3 L509.8 919.6 L506.1 912.4 L505.5 905.4 L504.4 898.4 L503.8 892.6 L500.9 887.9 L495.0 883.2 L485.7 877.4 L483.4 871.5 L481.0 866.9 L476.4 863.4 L471.7 854.0 L467.0 849.3 L460.0 843.5 L457.0 838.2 L448.2 836.7 L439.4 836.7 L433.6 833.8 L426.3 823.6 L417.5 814.8 L408.8 807.5 L400.0 800.2 L394.2 789.5 L384.0 779.3 L373.8 767.6 L369.0 760.0 L366.3 752.6 L363.6 745.5 L362.8 738.5Z M391.6 894.2 L392.9 890.3 L395.5 886.8 L397.3 884.6 L400.3 885.0 L403.0 886.3 L403.8 888.5 L406.0 890.3 L410.4 892.9 L414.8 894.2 L417.4 896.4 L418.3 899.0 L421.8 901.6 L426.2 904.3 L430.5 906.9 L434.9 909.5 L438.4 912.2 L437.6 915.7 L434.9 918.3 L430.5 918.7 L427.9 916.5 L425.3 913.9 L420.9 911.3 L416.5 908.7 L411.3 905.2 L406.9 904.3 L402.5 902.5 L398.1 900.8 L393.8 897.3Z M470.3 972.3 L475.5 969.6 L480.8 968.8 L486.0 965.3 L488.6 966.1 L493.9 969.6 L498.3 974.9 L502.7 980.1 L507.0 984.5 L512.3 988.0 L517.6 991.5 L520.6 996.8 L519.3 1003.8 L518.9 1010.8 L517.6 1017.8 L514.0 1021.3 L508.8 1020.4 L506.2 1016.1 L504.4 1009.0 L501.8 1003.8 L495.7 1000.3 L489.5 996.8 L486.9 991.5 L482.5 985.4 L478.1 979.3 L473.8 974.9Z M562.2 1112.3 L571.0 1108.8 L578.0 1108.8 L581.5 1117.6 L583.2 1128.1 L590.2 1138.6 L597.2 1149.1 L600.7 1159.6 L595.5 1163.1 L586.7 1156.1 L579.7 1149.1 L571.0 1138.6 L564.0 1131.6 L558.7 1122.9Z M539.4 1052.8 L546.4 1054.5 L553.4 1058.0 L557.0 1066.8 L557.0 1075.5 L553.4 1084.3 L551.7 1091.3 L544.7 1087.8 L541.2 1082.6 L546.4 1073.8 L548.2 1066.8 L543.0 1059.8Z M555.4 1046.0 L565.0 1043.7 L575.6 1045.5 L575.0 1050.0 L565.0 1050.5 L556.0 1049.5Z M613.4 1185.0 L616.0 1172.0 L621.0 1168.0 L625.0 1174.0 L628.0 1185.0Z M205.0 421.7 L210.0 424.0 L211.9 431.0 L209.0 437.0 L207.0 444.5 L203.0 444.0 L202.0 438.0 L198.5 434.0 L199.0 427.0 L202.0 423.0Z M262.5 578.0 L266.0 577.0 L269.0 582.0 L270.0 588.0 L268.5 593.4 L265.0 592.0 L263.0 586.0Z M254.0 590.0 L258.0 588.7 L262.0 592.0 L263.0 596.9 L258.0 596.0 L254.0 593.0Z M240.0 570.0 L244.0 570.0 L243.0 574.0 L247.0 576.0 L249.0 578.0 L244.0 578.5 L240.5 575.0Z M272.0 624.0 L277.0 622.6 L279.3 627.0 L277.0 633.0 L273.0 632.0Z M276.0 636.0 L283.0 634.0 L287.0 642.0 L289.8 652.0 L288.0 660.0 L284.0 662.3 L280.0 657.0 L277.0 648.0 L274.0 642.0Z M363.6 712.0 L368.0 710.5 L372.0 713.0 L373.7 716.0 L370.0 718.8 L366.0 716.0Z M350.5 721.0 L355.0 719.3 L359.0 724.0 L361.9 729.0 L359.0 731.5 L354.0 727.0Z M530.4 423.0 L536.6 418.0 L541.0 425.8 L541.8 434.5 L539.0 436.0 L537.0 428.0 L533.0 425.0Z M533.0 479.0 L538.0 470.0 L542.7 469.6 L541.0 476.0 L536.0 481.8Z M640.0 486.0 L645.0 486.0 L646.0 490.0 L641.0 491.0Z M638.0 499.0 L645.0 498.0 L646.0 503.0 L642.0 506.0 L638.0 505.0Z M618.0 663.0 L623.0 662.7 L624.5 669.0 L622.0 675.8 L618.5 672.0Z M621.0 680.0 L630.0 678.4 L636.4 684.0 L634.0 692.0 L627.0 694.2 L622.0 688.0Z M593.0 673.0 L600.0 672.0 L603.0 675.0 L597.0 677.0Z M652.3 737.0 L658.0 736.0 L660.5 742.0 L658.0 749.0 L653.0 748.0Z M585.0 607.0 L589.0 606.0 L590.0 614.0 L587.0 615.0Z M558.5 580.0 L561.5 579.0 L562.8 586.0 L562.0 594.0 L559.5 595.0 L558.5 588.0Z M540.5 582.0 L546.0 583.0 L548.0 590.0 L546.0 597.0 L542.0 598.0 L540.0 590.0Z M549.0 955.0 L556.0 953.0 L558.0 958.0 L552.0 961.0Z M222.0 521.5m-3.5 0a3.5 3.5 0 1 0 7.0 0a3.5 3.5 0 1 0 -7.0 0Z M520.8 421.4m-2.0 0a2.0 2.0 0 1 0 4.0 0a2.0 2.0 0 1 0 -4.0 0Z M526.0 440.7m-1.8 0a1.8 1.8 0 1 0 3.6 0a1.8 1.8 0 1 0 -3.6 0Z M520.8 447.7m-1.8 0a1.8 1.8 0 1 0 3.6 0a1.8 1.8 0 1 0 -3.6 0Z M537.4 464.3m-2.0 0a2.0 2.0 0 1 0 4.0 0a2.0 2.0 0 1 0 -4.0 0Z M527.8 485.3m-1.8 0a1.8 1.8 0 1 0 3.6 0a1.8 1.8 0 1 0 -3.6 0Z M532.2 490.6m-1.6 0a1.6 1.6 0 1 0 3.2 0a1.6 1.6 0 1 0 -3.2 0Z M518.2 505.5m-2.0 0a2.0 2.0 0 1 0 4.0 0a2.0 2.0 0 1 0 -4.0 0Z M632.3 468.0m-2.0 0a2.0 2.0 0 1 0 4.0 0a2.0 2.0 0 1 0 -4.0 0Z M540.0 443.0m-1.6 0a1.6 1.6 0 1 0 3.2 0a1.6 1.6 0 1 0 -3.2 0Z M472.4 983.2m-1.6 0a1.6 1.6 0 1 0 3.2 0a1.6 1.6 0 1 0 -3.2 0Z M483.0 1000.7m-1.4 0a1.4 1.4 0 1 0 2.8 0a1.4 1.4 0 1 0 -2.8 0Z M486.9 1004.7m-1.8 0a1.8 1.8 0 1 0 3.6 0a1.8 1.8 0 1 0 -3.6 0Z M517.6 1058.6m-1.8 0a1.8 1.8 0 1 0 3.6 0a1.8 1.8 0 1 0 -3.6 0Z M405.1 907.3m-1.3 0a1.3 1.3 0 1 0 2.6 0a1.3 1.3 0 1 0 -2.6 0Z M422.7 917.0m-1.5 0a1.5 1.5 0 1 0 3.0 0a1.5 1.5 0 1 0 -3.0 0Z M431.0 899.9m-1.3 0a1.3 1.3 0 1 0 2.6 0a1.3 1.3 0 1 0 -2.6 0Z M570.5 605.0m-1.6 0a1.6 1.6 0 1 0 3.2 0a1.6 1.6 0 1 0 -3.2 0Z M582.0 599.7m-1.4 0a1.4 1.4 0 1 0 2.8 0a1.4 1.4 0 1 0 -2.8 0Z M546.9 612.8m-1.2 0a1.2 1.2 0 1 0 2.4 0a1.2 1.2 0 1 0 -2.4 0Z" fill="#fdeac2" stroke="#d9aa4e" stroke-width="1" stroke-linejoin="round"/><polyline points="557.2,428.0 557.8,440.0 557.6,452.0" fill="none" stroke="#c6dc9c" stroke-width="3.4" stroke-linejoin="round"/><polyline points="557.2,428.0 557.8,440.0 557.6,452.0" fill="none" stroke="#a9d8b0" stroke-width="1.5" stroke-linejoin="round"/><polyline points="556.5,458.0 560.0,466.0 562.5,473.0 560.0,481.0 556.0,489.0" fill="none" stroke="#c6dc9c" stroke-width="3.4" stroke-linejoin="round"/><polyline points="556.5,458.0 560.0,466.0 562.5,473.0 560.0,481.0 556.0,489.0" fill="none" stroke="#a9d8b0" stroke-width="1.5" stroke-linejoin="round"/><path d="M379.0 749.7 L389.2 753.4 L400.9 756.3 L411.1 757.7 L422.8 757.7 L433.0 760.7 L441.8 766.5 L447.6 773.8 L444.7 779.6 L435.9 778.2 L425.7 775.3 L418.4 772.3 L408.2 768.0 L398.0 766.5 L389.2 769.4 L384.8 763.6 L379.0 754.8Z" fill="#f6f9ec"/><path d="M371.7 746.0 L376.0 746.5 L376.0 752.0 L372.0 751.0Z" fill="#f6f9ec"/><path d="M445.8 805.8 L461.5 804.0 L475.5 809.3 L487.8 805.8 L500.0 812.8 L512.3 814.5 L521.0 825.0 L524.6 839.0 L528.0 851.3 L531.6 863.6 L535.0 875.8 L522.8 875.8 L512.3 872.3 L503.5 867.0 L493.0 858.3 L482.6 847.8 L472.0 840.8 L463.3 832.0 L452.8 821.5 L445.8 812.8Z" fill="#f6f9ec"/><path d="M450.0 775.0 L460.0 770.0 L462.0 784.0 L455.0 790.0 L450.0 784.0Z" fill="#f6f9ec"/><path d="M520.0 850.0 L530.0 848.0 L533.0 858.0 L528.0 866.0 L521.0 862.0Z" fill="#f6f9ec"/><path d="M539.4 864.3 L560.9 866.3 L569.0 880.7 L581.3 897.0 L597.7 905.2 L605.8 911.3 L607.9 921.5 L616.0 931.7 L614.0 952.2 L605.8 960.4 L601.7 956.3 L597.7 944.0 L579.3 944.0 L571.0 931.7 L560.9 921.5 L550.7 915.4 L542.5 909.3 L545.0 895.0 L541.0 880.0Z" fill="#f6f9ec"/><path d="M614.6 991.0 L622.0 993.0 L632.0 1002.0 L641.0 1012.0 L640.0 1018.0 L630.0 1015.0 L620.0 1004.0Z" fill="#f6f9ec"/><path d="M605.0 1002.0 L612.0 1004.0 L622.0 1016.0 L636.0 1024.0 L640.0 1031.0 L630.0 1031.0 L618.0 1024.0 L608.0 1012.0Z" fill="#f6f9ec"/><path d="M643.0 1033.0 L652.0 1036.0 L662.0 1045.0 L668.0 1052.0 L660.0 1055.0 L650.0 1050.0 L644.0 1042.0Z" fill="#f6f9ec"/><path d="M648.0 1065.0 L660.0 1063.0 L670.0 1070.0 L672.0 1080.0 L660.0 1082.0 L650.0 1075.0Z" fill="#f6f9ec"/><path d="M602.0 943.0 L612.0 941.0 L617.0 950.0 L612.0 960.0 L604.0 958.0Z" fill="#f6f9ec"/><path d="M662.0 1085.0 L672.0 1088.0 L679.0 1100.0 L679.0 1120.0 L670.0 1124.0 L664.0 1105.0Z" fill="#f6f9ec"/><path d="M673.0 1052.0 L680.0 1051.0 L681.0 1058.0 L674.0 1058.0Z" fill="#f6f9ec"/><path d="M610.0 545.0 L615.0 544.0 L616.0 550.0 L611.0 551.0Z" fill="#f6f9ec"/><path d="M622.0 558.0 L628.0 557.0 L627.0 566.0 L622.0 566.0Z" fill="#f6f9ec"/><path d="M470.0 825.0 L490.0 822.0 L505.0 835.0 L508.0 850.0 L495.0 852.0 L480.0 843.0Z" fill="#e9f7f0"/><path d="M575.0 900.0 L590.0 905.0 L598.0 925.0 L588.0 935.0 L578.0 925.0Z" fill="#e9f7f0"/><g fill="none" stroke="#f41010" stroke-width="1.2" stroke-linecap="round"><polyline points="328.5,683.3 334.0,692.2 340.0,700.5 350.4,713.3 357.0,721.5 364.1,728.9 373.7,738.5 376.8,742.0 383.8,747.7 392.6,754.3 403.0,761.8 423.4,779.3 446.8,799.7 467.2,811.4 493.5,826.0 511.0,843.5 522.7,858.0 554.0,899.3 585.0,940.3 598.7,960.8 612.4,982.8 616.9,986.6 629.1,1000.3 639.7,1011.0 645.8,1021.6 648.0,1033.7 650.3,1041.3 655.7,1052.7"/><polyline points="659.5,1058.0 664.8,1065.7"/><polyline points="402.2,754.5 416.0,768.3"/><polyline points="469.3,806.8 497.8,826.5"/><polyline points="442.3,815.5 452.0,829.0 463.5,841.8"/><polyline points="498.8,802.8 503.4,818.9"/><polyline points="554.0,890.0 575.0,901.0 597.6,910.8"/><polyline points="534.3,922.2 543.0,928.3"/><polyline points="547.4,931.8 570.2,937.0"/><polyline points="505.6,887.6 507.4,957.2"/><polyline points="567.7,963.7 580.0,975.0"/><polyline points="584.0,979.0 600.0,991.3"/><polyline points="596.4,965.3 606.3,983.6 612.4,1003.3 618.4,1015.5 629.1,1023.1 640.5,1033.7"/><polyline points="581.0,974.9 585.0,979.0 591.0,980.5 598.7,994.2"/><polyline points="567.5,962.7 572.9,966.8"/><polyline points="579.4,416.6 577.2,426.0"/><polyline points="599.9,416.6 588.2,425.3"/><polyline points="601.3,417.3 597.7,421.0"/><polyline points="557.5,431.2 558.2,450.9"/><polyline points="573.6,430.4 571.4,434.0"/><polyline points="578.7,432.0 577.2,437.7"/><polyline points="580.1,441.4 569.2,450.9 566.3,458.2"/><polyline points="580.9,444.3 570.7,449.4"/><polyline points="587.4,445.0 575.0,468.4"/><polyline points="579.4,456.7 573.6,467.0"/><polyline points="573.6,453.8 561.9,475.7"/><polyline points="569.2,458.2 564.8,471.3"/><polyline points="578.0,478.6 564.1,490.3"/><polyline points="569.2,481.5 565.5,487.4"/><polyline points="553.9,496.1 551.7,503.4"/><polyline points="556.0,503.4 552.4,509.3"/><polyline points="557.0,502.9 548.2,515.3"/><polyline points="577.4,516.8 578.9,523.4"/><polyline points="584.7,525.5 583.3,533.6"/><polyline points="564.3,524.1 562.8,530.7 557.0,534.3"/><polyline points="556.3,536.5 566.5,539.4"/><polyline points="576.0,531.4 566.5,543.8"/><polyline points="573.8,538.0 563.6,557.0"/><polyline points="572.3,540.9 565.0,557.0"/><polyline points="576.7,539.4 577.4,549.6"/><polyline points="557.0,554.0 553.4,559.9"/><polyline points="547.5,556.2 544.6,564.2"/><polyline points="551.2,566.4 549.0,570.0"/><polyline points="570.1,557.7 568.7,561.3"/><polyline points="580.4,556.2 578.2,567.2"/><polyline points="568.0,562.8 567.2,573.0"/><polyline points="578.2,574.5 578.9,581.8"/><polyline points="575.0,536.0 566.0,553.0"/><polyline points="574.0,543.0 567.0,555.0"/><polyline points="552.5,560.0 558.0,553.0"/><polyline points="562.0,503.0 556.0,512.0"/></g><polygon points="548.6,582.6 537.2,602.8 560.6,602.8" fill="#808080"/><polygon points="282.1,630.3 270.6,649.4 293.8,649.4" fill="#808080"/><polygon points="370.5,718.2 359.1,738.5 382.0,738.5" fill="#808080"/><polygon points="498.7,976.4 487.2,997.0 510.3,997.0" fill="#808080"/><circle cx="173.3" cy="599.5" r="26.4" fill="#fff"/><path d="M189.9 579.3 Q165.3 585.6 159.5 601.5 Q179.2 614.75 198.1 610.2 A26.4 26.4 0 0 0 189.9 579.3Z" fill="#0000ff"/><path d="M148.4 590.4 Q153.4 598.8 159.5 601.5 Q157.8 607.2 156 620.1 A26.4 26.4 0 0 1 148.4 590.4Z" fill="#0000ff"/><circle cx="407.9" cy="841.4" r="26.3" fill="#fff"/><path d="M386.90 826.60 Q404.50 848.50 427.80 858.10 A25.842 25.842 0 0 0 386.90 826.60Z" fill="#0000ff"/><circle cx="469.9" cy="926.5" r="25.8" fill="#fff"/><path d="M448.80 911.50 Q468.50 930.50 490.70 942.10 A25.955 25.955 0 0 0 448.80 911.50Z" fill="#0000ff"/><path d="M251.9 923.75 L258.4 916.15 L240.1 900.55 L233.6 908.15Z" fill="#c8c8c8"/><circle cx="263.6" cy="891.6" r="26.5" fill="#fff"/><path d="M268.6 865.2 Q263 882 260.9 899.5 L289.3 897.9 A26.5 26.5 0 0 0 268.6 865.2Z" fill="#0000ff"/><path d="M237.2 887.2 Q248 895 260.9 899.5 Q258 909 257.8 918 A26.5 26.5 0 0 1 237.2 887.2Z" fill="#0000ff"/><circle cx="228.4" cy="932.7" r="26.5" fill="#fff"/><path d="M236.4 906.9 Q228 918 224.1 933.2 Q238 938 253.2 940.8 A26.5 26.5 0 0 0 236.4 906.9Z" fill="#0000ff"/><path d="M202.7 924.7 Q213 929 224.1 933.2 Q220 945 218.8 957.2 A26.5 26.5 0 0 1 202.7 924.7Z" fill="#0000ff"/><circle cx="208.1" cy="1010.4" r="26.4" fill="#fff"/><path d="M207.4 984 Q213.5 1000 213.2 1018.8 Q224 1017.5 234 1014.7 A26.4 26.4 0 0 0 207.4 984Z" fill="#0000ff"/><path d="M181.8 1007.7 Q197 1015.5 213.2 1018.8 Q210 1028 208.5 1036.8 A26.4 26.4 0 0 1 181.8 1007.7Z" fill="#0000ff"/><text x="183.7" y="565.5" font-family="Liberation Sans, Arial, sans-serif" font-weight="bold" font-size="27.5" fill="#000" textLength="156" lengthAdjust="spacingAndGlyphs">M7.5 (2010)</text><text x="406.4" y="803.4" font-family="Liberation Sans, Arial, sans-serif" font-weight="bold" font-size="27.5" fill="#000" textLength="156" lengthAdjust="spacingAndGlyphs">M7.2 (2010)</text><text x="153.5" y="851.5" font-family="Liberation Sans, Arial, sans-serif" font-weight="bold" font-size="27.5" fill="#000" textLength="156" lengthAdjust="spacingAndGlyphs">M7.2 (2012)</text><text x="39.5" y="935.5" font-family="Liberation Sans, Arial, sans-serif" font-weight="bold" font-size="27.5" fill="#000" textLength="156" lengthAdjust="spacingAndGlyphs">M8.6 (2012)</text><text x="162.7" y="1071.5" font-family="Liberation Sans, Arial, sans-serif" font-weight="bold" font-size="27.5" fill="#000" textLength="156" lengthAdjust="spacingAndGlyphs">M8.2 (2012)</text><text x="467.7" y="896.5" font-family="Liberation Sans, Arial, sans-serif" font-weight="bold" font-size="27.5" fill="#000" textLength="156" lengthAdjust="spacingAndGlyphs">M7.8 (2010)</text><text x="484.2" y="640.6" font-family="Liberation Sans, Arial, sans-serif" font-style="italic" font-size="31.5" fill="#000" textLength="101.3" lengthAdjust="spacingAndGlyphs">Phuket</text><text x="381.4" y="720.0" font-family="Liberation Sans, Arial, sans-serif" font-style="italic" font-size="31.5" fill="#000" textLength="74.2" lengthAdjust="spacingAndGlyphs">Aceh</text><text x="194.4" y="689.1" font-family="Liberation Sans, Arial, sans-serif" font-style="italic" font-size="31.5" fill="#000" textLength="113.0" lengthAdjust="spacingAndGlyphs">Nicobar</text><text x="427.8" y="1031.5" font-family="Liberation Sans, Arial, sans-serif" font-style="italic" font-size="31.5" fill="#000" textLength="66.0" lengthAdjust="spacingAndGlyphs">Nias</text><path d="M0 531.4H19.6" stroke="#333" stroke-width="1"/><text x="23.8" y="545.6" font-family="Liberation Sans, Arial, sans-serif" fill="#000" font-size="26">9</text><text x="38.3" y="535.8" font-family="Liberation Sans, Arial, sans-serif" fill="#000" font-size="18.5">O</text><text x="51.8" y="545.6" font-family="Liberation Sans, Arial, sans-serif" fill="#000" font-size="26">N</text><path d="M0 763.8H19.6" stroke="#333" stroke-width="1"/><text x="23.8" y="777.8" font-family="Liberation Sans, Arial, sans-serif" fill="#000" font-size="26">5</text><text x="38.3" y="768.0" font-family="Liberation Sans, Arial, sans-serif" fill="#000" font-size="18.5">O</text><text x="51.8" y="777.8" font-family="Liberation Sans, Arial, sans-serif" fill="#000" font-size="26">N</text><path d="M0 996.0H19.6" stroke="#333" stroke-width="1"/><text x="23.8" y="1009.5" font-family="Liberation Sans, Arial, sans-serif" fill="#000" font-size="26">1</text><text x="38.3" y="999.7" font-family="Liberation Sans, Arial, sans-serif" fill="#000" font-size="18.5">O</text><text x="51.8" y="1009.5" font-family="Liberation Sans, Arial, sans-serif" fill="#000" font-size="26">N</text><path d="M235.5 1165.1V1184" stroke="#333" stroke-width="1"/><text x="205.5" y="1168.6" font-family="Liberation Sans, Arial, sans-serif" fill="#000" font-size="26">93</text><text x="234.3" y="1158.6" font-family="Liberation Sans, Arial, sans-serif" fill="#000" font-size="18.5">O</text><text x="248.1" y="1168.6" font-family="Liberation Sans, Arial, sans-serif" fill="#000" font-size="26">E</text><path d="M467.4 1165.1V1184" stroke="#333" stroke-width="1"/><text x="437.8" y="1168.6" font-family="Liberation Sans, Arial, sans-serif" fill="#000" font-size="26">97</text><text x="466.6" y="1158.6" font-family="Liberation Sans, Arial, sans-serif" fill="#000" font-size="18.5">O</text><text x="480.4" y="1168.6" font-family="Liberation Sans, Arial, sans-serif" fill="#000" font-size="26">E</text><ellipse cx="40.9" cy="456.3" rx="22.5" ry="21.4" fill="#000"/><text x="41.5" y="467" font-family="Liberation Sans, Arial, sans-serif" font-size="30.5" font-weight="bold" fill="#fff" text-anchor="middle">b</text><text x="73.7" y="1087" font-family="Liberation Sans, Arial, sans-serif" fill="#000" font-size="15.8" font-weight="bold" text-anchor="middle">N</text><path d="M73.6 1089.6 L62.6 1126.4 L73.6 1113.2Z" fill="#000" stroke="#000" stroke-width="0.8" stroke-linejoin="round"/><path d="M73.6 1089.6 L84.2 1126.2 L73.6 1113.2Z" fill="none" stroke="#000" stroke-width="1.5" stroke-linejoin="round"/><path d="M17.4 1146.9 V1165.8 H134.4 V1146.9" fill="none" stroke="#000" stroke-width="4" stroke-linecap="round" stroke-linejoin="round"/><text x="38.5" y="1156.7" font-family="Liberation Sans, Arial, sans-serif" fill="#000" font-size="19.5" font-weight="bold" textLength="72.5" lengthAdjust="spacingAndGlyphs">200 km</text></g></svg></body></html>
